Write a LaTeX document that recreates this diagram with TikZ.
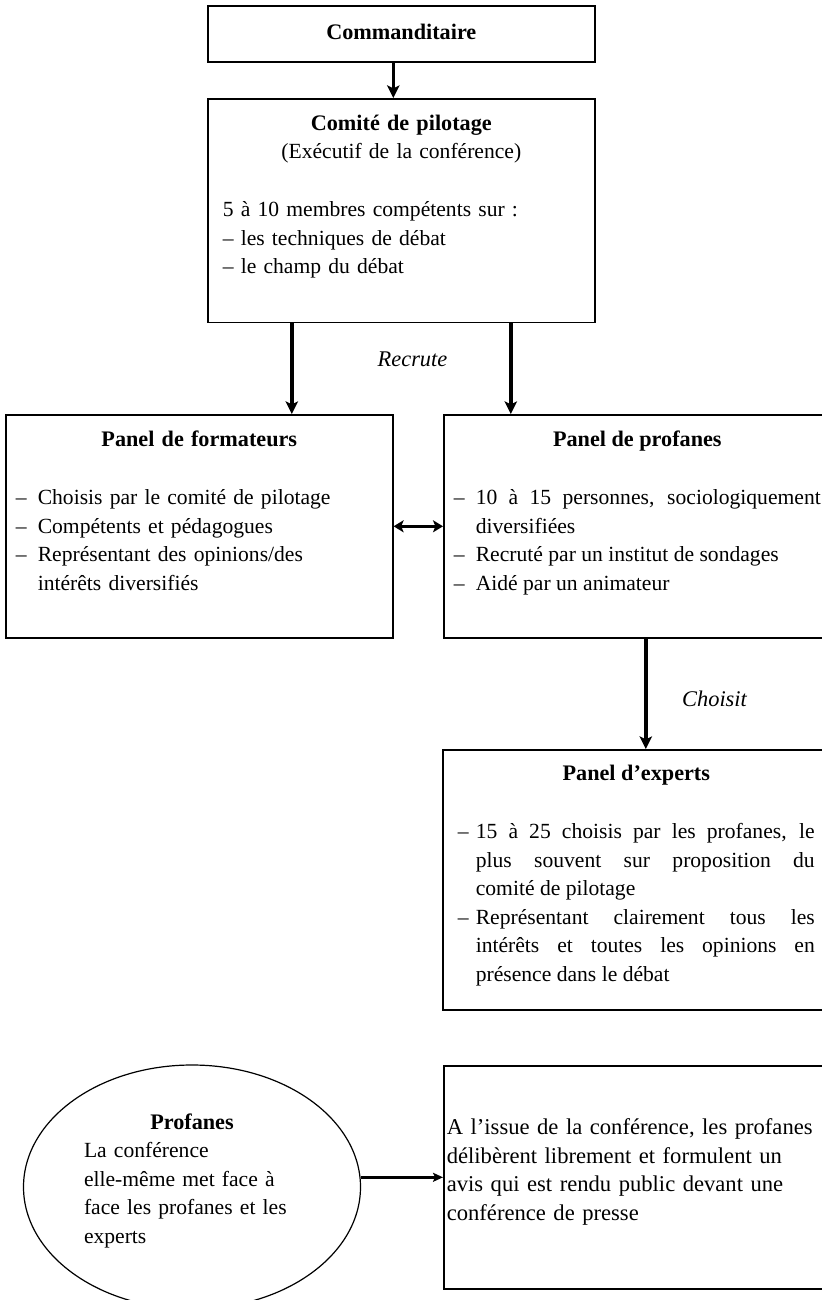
\documentclass[tikz,border=0pt]{standalone}
\usepackage{fontspec}
\setmainfont{Liberation Serif}
\usetikzlibrary{arrows.meta,shapes.geometric}
\hyphenpenalty=10000
\exhyphenpenalty=10000
\newcommand{\tiret}[1][9pt]{\par\hangindent=#1\hangafter=1\noindent\makebox[#1][l]{–}}
\newcommand{\blanc}{\par\vspace{14.75pt}}
\newcommand{\gras}{\fontsize{11.1}{14.25}\selectfont\bfseries}

\begin{document}
\begin{tikzpicture}[x=0.5pt,y=-0.5pt,
    txt/.style={font=\fontsize{10.8}{14.25}\selectfont},
    lab/.style={font=\fontsize{11.2}{14.25}\selectfont\itshape},
    box/.style={txt,draw,line width=0.8pt,anchor=north west,inner xsep=7.5pt,inner ysep=0pt,text width=178.5pt},
    arr/.style={-{Stealth[length=6.3pt,width=6.2pt,inset=1.5pt]},line width=1.7pt}]
    \useasboundingbox (0,0) rectangle (822,1300);

    \node[box,align=center,text height=16.75pt,text depth=11.25pt] (cmd) at (207,5) {\gras Commanditaire};
    \node[box,align=left,text height=15.75pt,text depth=96pt] (comite) at (207,98)
        {{\centering{\gras Comité de pilotage}\\(Exécutif de la conférence)\par}\blanc
        5 à 10 membres compétents sur :\\– les techniques de débat\\– le champ du débat\par};
    \node[box,align=left,inner xsep=5pt,text width=183.5pt,text height=16pt,text depth=95.5pt] (form) at (5,414)
        {{\centering\gras Panel de formateurs\par}\blanc
        \tiret[11pt]Choisis par le comité de pilotage
        \tiret[11pt]Compétents et pédagogues
        \tiret[11pt]Représentant des opinions/des\newline intérêts diversifiés\par};
    \node[box,align=justify,inner xsep=5pt,text width=183.5pt,text height=16pt,text depth=95.5pt] (prof) at (443,414)
        {{\centering\gras Panel de profanes\par}\blanc
        \tiret[11pt]10 à 15 personnes, sociologiquement\linebreak diversifiées
        \tiret[11pt]Recruté par un institut de sondages
        \tiret[11pt]Aidé par un animateur\par};
    \node[box,align=justify,text height=15.5pt,text depth=114.5pt] (experts) at (442,749)
        {{\centering\gras Panel d’experts\par}\blanc
        \tiret 15 à 25 choisis par les profanes, le\linebreak plus souvent sur proposition du\linebreak comité de pilotage
        \tiret Représentant clairement tous les\linebreak intérêts et toutes les opinions en\linebreak présence dans le débat\par};
    \node[txt,draw,ellipse,line width=0.6pt,inner sep=0pt,minimum width=168.5pt,minimum height=122pt,
        text width=108pt,align=left,text height=8pt,text depth=66pt] (conf) at (192,1187)
        {{\centering\gras Profanes\par}La conférence\\elle-même met face à\\face les profanes et les\\experts\par};
    \node[box,align=left,font=\fontsize{11.3}{14.25}\selectfont,inner xsep=1.5pt,text width=192pt,text height=34.5pt,text depth=77pt] (avis) at (443,1065)
        {A l’issue de la conférence, les profanes\\délibèrent librement et formulent un\\avis qui est rendu public devant une\\conférence de presse\par};

    \node[lab,anchor=base] (recrute) at (412.5,366) {Recrute};

    \coordinate (c1) at ([xshift=-4pt]cmd.south);
    \coordinate (c2) at ([xshift=-54.75pt]comite.south);
    \coordinate (c3) at ([xshift=54.75pt]comite.south);
    \coordinate (c4) at ([xshift=4.25pt]prof.south);

    \draw[arr] (c1) -- (c1 |- comite.north);
    \draw[arr] (c2) -- (c2 |- form.north);
    \draw[arr] (c3) -- (c3 |- prof.north);
    \draw[{Stealth[length=5pt,width=6pt,inset=1.2pt]}-{Stealth[length=5pt,width=6pt,inset=1.2pt]},line width=1.7pt] (form.east) -- (prof.west);
    \draw[arr] (c4) -- (c4 |- experts.north) node[lab,pos=0.55,right=14pt] (choisit) {Choisit};
    \draw[-{Stealth[length=5pt,width=4.5pt,inset=1pt]},line width=1.8pt] (conf.east |- avis.west) -- (avis.west);
\end{tikzpicture}
\end{document}
